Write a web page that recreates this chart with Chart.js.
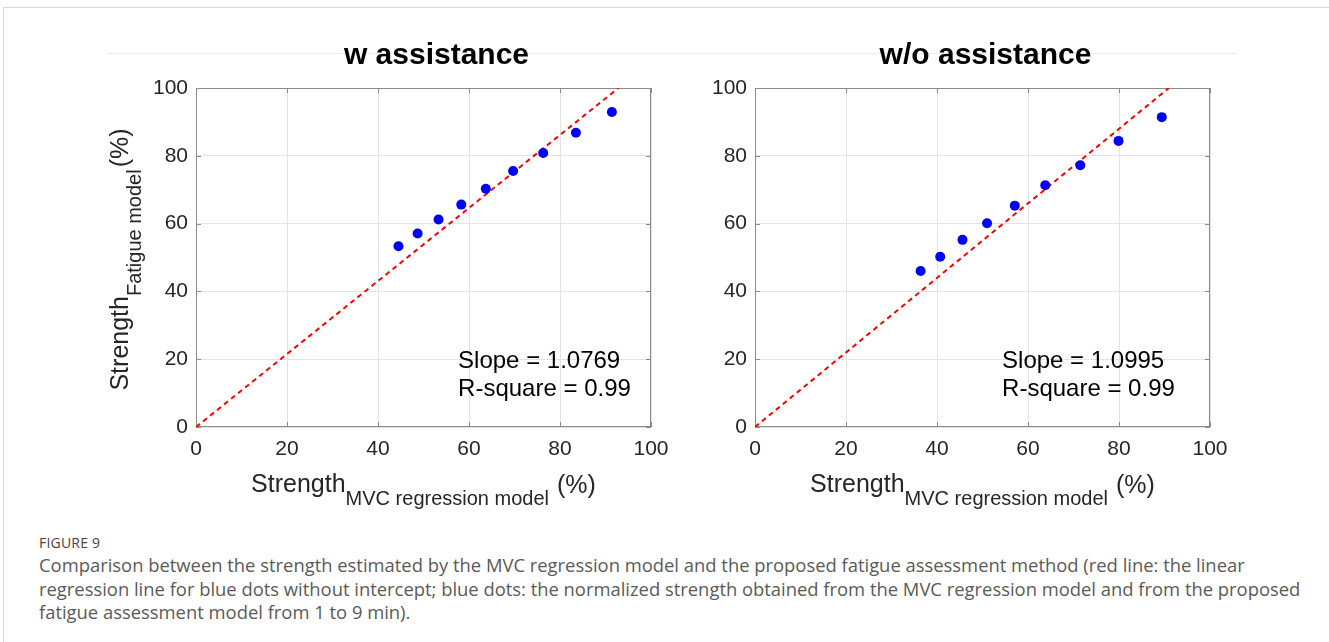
<!DOCTYPE html>
<html>
<head>
<meta charset="utf-8">
<script src="https://cdn.jsdelivr.net/npm/chart.js@4/dist/chart.umd.min.js"></script>
<style>
  html, body { margin: 0; padding: 0; background: #fff; }
  body { width: 1329px; height: 642px; position: relative; overflow: hidden; }
  .frame { position: absolute; left: 3px; top: 7px; right: 0; bottom: 0;
           border-top: 1px solid #d9d9d9; border-left: 1px solid #d9d9d9; }
  .titleline { position: absolute; left: 107px; width: 1130px; top: 53px; height: 1px; background: #ececec; }
  .panel { position: absolute; top: 0; width: 700px; height: 520px; }
  .caption { position: absolute; left: 39px; top: 532px; font-family: "Open Sans", sans-serif; color: #5a5a5a; }
  .caption .fig { font-size: 14px; color: #444; letter-spacing: 0.2px; line-height: 21px; }
  .caption .txt { font-size: 18.4px; line-height: 23.5px; white-space: nowrap; }
</style>
</head>
<body>
<div class="frame"></div>
<div class="titleline"></div>
<div class="panel" style="left:0px"><canvas id="chartW"></canvas></div>
<div class="panel" style="left:629px"><canvas id="chartWo"></canvas></div>
<div class="caption">
  <div class="fig">FIGURE 9</div>
  <div class="txt">Comparison between the strength estimated by the MVC regression model and the proposed fatigue assessment method (red line: the linear<br>regression line for blue dots without intercept; blue dots: the normalized strength obtained from the MVC regression model and from the proposed<br>fatigue assessment model from 1 to 9 min).</div>
</div>
<script>
// datos (1 a 9 min)
const titulos = ['w assistance', 'w/o assistance'];

const mvcConAsist = [44.5, 48.7, 53.3, 58.3, 63.7, 69.7, 76.3, 83.5, 91.4];
const fatigaConAsist = [53.3, 57.1, 61.2, 65.6, 70.3, 75.5, 80.8, 86.8, 92.9];

const mvcSinAsist = [36.4, 40.7, 45.6, 51.0, 57.1, 63.8, 71.5, 79.9, 89.4];
const fatigaSinAsist = [46.0, 50.2, 55.2, 60.1, 65.3, 71.3, 77.2, 84.4, 91.4];

const pendientes = [1.0769, 1.0995];
const rCuadrado = [0.99, 0.99];

const ejeTicks = [0, 20, 40, 60, 80, 100];

const FUENTE = '"Liberation Sans", Arial, sans-serif';
const colores = {
    punto: '#0000ff',
    linea: '#ff0000',
    texto: '#262626',
    marco: '#8a8a8a',
    rejilla: '#e3e3e3'
};

// titulos de ejes con subíndice, título del panel, anotación y marco estilo MATLAB
const decoracion = {
    id: 'decoracion',
    beforeDatasetsDraw(chart, args, opts) {
        const { ctx, chartArea: a } = chart;
        ctx.save();
        ctx.strokeStyle = colores.marco;
        ctx.lineWidth = 1;
        ctx.strokeRect(a.left + 0.5, a.top + 0.5, a.right - a.left - 1, a.bottom - a.top - 1);
        // marcas hacia dentro
        const xs = chart.scales.x, ys = chart.scales.y;
        ctx.beginPath();
        ejeTicks.forEach(v => {
            const px = Math.round(xs.getPixelForValue(v)) + 0.5;
            ctx.moveTo(px, a.bottom); ctx.lineTo(px, a.bottom - 5);
            ctx.moveTo(px, a.top); ctx.lineTo(px, a.top + 5);
            const py = Math.round(ys.getPixelForValue(v)) + 0.5;
            ctx.moveTo(a.left, py); ctx.lineTo(a.left + 5, py);
            ctx.moveTo(a.right, py); ctx.lineTo(a.right - 5, py);
        });
        ctx.stroke();
        ctx.restore();
    },
    afterDraw(chart, args, opts) {
        const { ctx, chartArea: a } = chart;
        const cx = (a.left + a.right) / 2;
        const cy = (a.top + a.bottom) / 2;
        ctx.save();
        ctx.fillStyle = '#000';
        ctx.textBaseline = 'alphabetic';

        // título
        ctx.font = 'bold 30px ' + FUENTE;
        ctx.textAlign = 'center';
        ctx.fillText(opts.titulo, cx + opts.despTitulo, 64);

        // título eje x
        ctx.textAlign = 'left';
        ctx.fillStyle = colores.texto;
        const partes = (sub) => {
            ctx.font = '25px ' + FUENTE;
            const w1 = ctx.measureText('Strength').width;
            const w3 = ctx.measureText('(%)').width;
            ctx.font = '20px ' + FUENTE;
            const w2 = ctx.measureText(sub).width;
            return [w1, w2, w3];
        };
        let [w1, w2, w3] = partes('MVC regression model');
        let total = w1 + w2 + 8 + w3;
        let x0 = cx - total / 2;
        ctx.font = '25px ' + FUENTE;
        ctx.fillText('Strength', x0, 492);
        ctx.fillText('(%)', x0 + w1 + w2 + 8, 493);
        ctx.font = '20px ' + FUENTE;
        ctx.fillText('MVC regression model', x0 + w1, 505);

        // título eje y (solo panel izquierdo)
        if (opts.ejeY) {
            [w1, w2, w3] = partes('Fatigue model');
            total = w1 + w2 + 2 + w3;
            ctx.save();
            ctx.translate(128, cy + 2);
            ctx.rotate(-Math.PI / 2);
            x0 = -total / 2;
            ctx.font = '25px ' + FUENTE;
            ctx.fillText('Strength', x0, 0);
            ctx.fillText('(%)', x0 + w1 + w2 + 2, 0);
            ctx.font = '20px ' + FUENTE;
            ctx.fillText('Fatigue model', x0 + w1, 13);
            ctx.restore();
        }

        // anotación
        ctx.font = '24px ' + FUENTE;
        ctx.fillStyle = '#000';
        const ax = chart.scales.x.getPixelForValue(opts.anotX);
        const ay = chart.scales.y.getPixelForValue(opts.anotY);
        ctx.fillText('Slope = ' + opts.pendiente.toFixed(4), ax, ay);
        ctx.fillText('R-square = ' + opts.r2.toFixed(2), ax, ay + 28);
        ctx.restore();
    }
};

function crearPanel(canvasId, i, mvc, fatiga, padding, extra) {
    const puntos = mvc.map((v, k) => ({ x: v, y: fatiga[k] }));
    const recta = [{ x: 0, y: 0 }, { x: 100 / pendientes[i], y: 100 }];
    const canvas = document.getElementById(canvasId);
    canvas.width = 700;
    canvas.height = 520;
    new Chart(canvas.getContext('2d'), {
        type: 'scatter',
        data: {
            datasets: [{
                data: puntos,
                backgroundColor: colores.punto,
                borderWidth: 0,
                pointRadius: 5
            }, {
                type: 'line',
                data: recta,
                borderColor: colores.linea,
                borderWidth: 2,
                borderDash: [5, 4],
                pointRadius: 0,
                fill: false
            }]
        },
        options: {
            responsive: false,
            animation: false,
            events: [],
            layout: { padding: padding },
            scales: {
                x: {
                    type: 'linear', min: 0, max: 100,
                    afterBuildTicks: s => { s.ticks = ejeTicks.map(v => ({ value: v })); },
                    afterFit: s => { s.height = 93; },
                    grid: { color: colores.rejilla, drawTicks: false },
                    border: { display: false },
                    ticks: { color: colores.texto, padding: 10, maxRotation: 0, font: { family: FUENTE, size: 21 } }
                },
                y: {
                    type: 'linear', min: 0, max: 100,
                    afterBuildTicks: s => { s.ticks = ejeTicks.map(v => ({ value: v })); },
                    afterFit: s => { s.width = 80; },
                    grid: { color: colores.rejilla, drawTicks: false },
                    border: { display: false },
                    ticks: { color: colores.texto, padding: 8, font: { family: FUENTE, size: 21 } }
                }
            },
            plugins: {
                legend: { display: false },
                tooltip: { enabled: false },
                decoracion: Object.assign({
                    titulo: titulos[i],
                    pendiente: pendientes[i],
                    r2: rCuadrado[i]
                }, extra)
            }
        },
        plugins: [decoracion]
    });
}

crearPanel('chartW', 0, mvcConAsist, fatigaConAsist,
    { left: 116, top: 88, right: 49, bottom: 0 },
    { ejeY: true, despTitulo: 13, anotX: 57.6, anotY: 17.4 });

crearPanel('chartWo', 1, mvcSinAsist, fatigaSinAsist,
    { left: 46, top: 88, right: 119, bottom: 0 },
    { ejeY: false, despTitulo: 3, anotX: 54.3, anotY: 17.4 });
</script>
</body>
</html>
